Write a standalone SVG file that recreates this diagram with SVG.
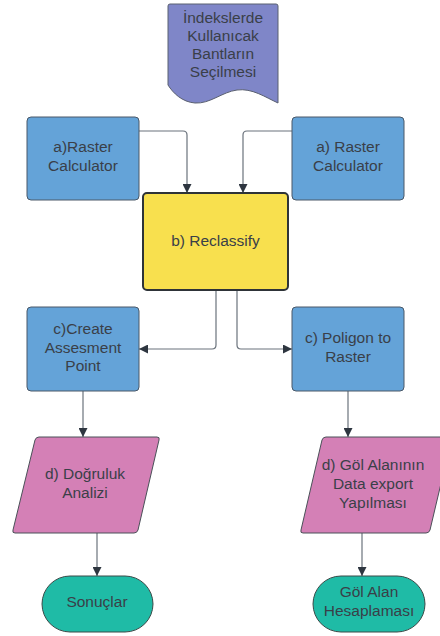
<svg xmlns="http://www.w3.org/2000/svg" width="440" height="636" viewBox="0 0 440 636">
<defs>
<style>
text{font-family:"Liberation Sans",Arial,sans-serif;font-size:15.5px;fill:#3a3f48;text-anchor:middle}
.blue{fill:#64a3d8;stroke:#4a5868;stroke-width:1}
.yel{fill:#f8e04e;stroke:#2e3338;stroke-width:2}
.doc{fill:#7f86c8;stroke:#5a6070;stroke-width:1}
.pink{fill:#d480b6;stroke:#4a5058;stroke-width:1}
.teal{fill:#1fbba6;stroke:#3a4a48;stroke-width:1}
.conn path{fill:none;stroke:#6b737c;stroke-width:1.2}
</style>
<marker id="ah" viewBox="0 0 10 10" refX="10" refY="5" markerWidth="9" markerHeight="9" markerUnits="userSpaceOnUse" orient="auto">
<path d="M0,0 L10,5 L0,10 Z" fill="#2e3640"/>
</marker>
</defs>
<rect width="440" height="636" fill="#ffffff"/>
<g class="conn">
<path d="M139,131 H183 Q187,131 187,135 V193" marker-end="url(#ah)"/>
<path d="M292,131 H247 Q243,131 243,135 V193" marker-end="url(#ah)"/>
<path d="M216,290 V345 Q216,349 212,349 H139" marker-end="url(#ah)"/>
<path d="M237,290 V345 Q237,349 241,349 H292" marker-end="url(#ah)"/>
<path d="M83,391 V437" marker-end="url(#ah)"/>
<path d="M348,391 V437" marker-end="url(#ah)"/>
<path d="M97,533 V576" marker-end="url(#ah)"/>
<path d="M362,533 V576" marker-end="url(#ah)"/>
</g>
<g id="n-doc">
<path class="doc" d="M170,4 H276 Q278,4 278,6 V103 C 265,97 252,88 237,90 C 222,92 210,104 195,103 C 182,102 173,93 168,85 V6 Q168,4 170,4 Z"/>
<text x="223" y="23">İndekslerde</text>
<text x="223" y="41">Kullanıcak</text>
<text x="223" y="59">Bantların</text>
<text x="223" y="77">Seçilmesi</text>
</g>
<g id="n-ra1">
<rect class="blue" x="27" y="117" width="112" height="83" rx="4"/>
<text x="83" y="152">a)Raster</text>
<text x="83" y="171">Calculator</text>
</g>
<g id="n-ra2">
<rect class="blue" x="292" y="117" width="112" height="83" rx="4"/>
<text x="348" y="152">a) Raster</text>
<text x="348" y="171">Calculator</text>
</g>
<g id="n-rec">
<rect class="yel" x="143" y="193" width="145" height="97" rx="4"/>
<text x="215.5" y="246">b) Reclassify</text>
</g>
<g id="n-cap">
<rect class="blue" x="27" y="307" width="112" height="84" rx="4"/>
<text x="83" y="334">c)Create</text>
<text x="83" y="353">Assesment</text>
<text x="83" y="371">Point</text>
</g>
<g id="n-ptr">
<rect class="blue" x="292" y="307" width="112" height="84" rx="4"/>
<text x="348" y="343">c) Poligon to</text>
<text x="348" y="362">Raster</text>
</g>
<g id="n-dog">
<path class="pink" d="M39,437 H157 Q160,437 159,440 L138,530 Q137,533 134,533 H15 Q12,533 13,530 L35,440 Q36,437 39,437 Z"/>
<text x="85" y="479">d) Doğruluk</text>
<text x="85" y="498">Analizi</text>
</g>
<g id="n-gol">
<path class="pink" d="M326,437 H452 L430,530 Q429,533 426,533 H303 Q300,533 301,530 L322,440 Q323,437 326,437 Z"/>
<text x="373" y="470">d) Göl Alanının</text>
<text x="373" y="489">Data export</text>
<text x="373" y="508">Yapılması</text>
</g>
<g id="n-son">
<rect class="teal" x="42" y="576" width="111" height="56" rx="28"/>
<text x="97" y="607">Sonuçlar</text>
</g>
<g id="n-hes">
<rect class="teal" x="313" y="576" width="112" height="56" rx="28"/>
<text x="369" y="597">Göl Alan</text>
<text x="369" y="616">Hesaplaması</text>
</g>
</svg>
